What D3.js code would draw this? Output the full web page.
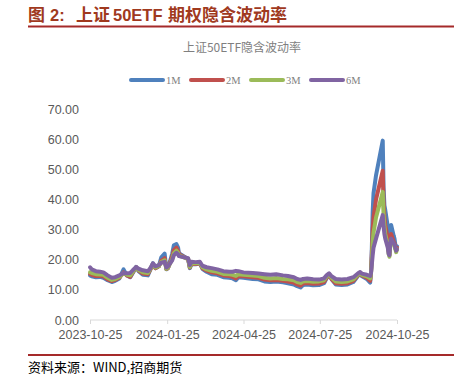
<!DOCTYPE html>
<html lang="zh">
<head>
<meta charset="UTF-8">
<title>上证50ETF期权隐含波动率</title>
<script src="https://d3js.org/d3.v7.min.js"></script>
<style>
  body { margin: 0; background: #fff; }
  svg text { font-family: "Liberation Sans", Arial, sans-serif; }
  .cjk { font-family: "Noto Sans CJK SC", sans-serif; }
</style>
</head>
<body>
<svg width="464" height="387"></svg>
<script>
// data
const dates = [
  "2023-10-25","2023-10-27","2023-11-01","2023-11-06","2023-11-10","2023-11-15","2023-11-20","2023-11-24",
  "2023-11-29","2023-12-04","2023-12-08","2023-12-12","2023-12-15","2023-12-19","2023-12-22","2023-12-27",
  "2024-01-02","2024-01-05","2024-01-08","2024-01-11","2024-01-15","2024-01-18","2024-01-22","2024-01-24",
  "2024-01-26","2024-01-31","2024-02-02","2024-02-05","2024-02-07","2024-02-08","2024-02-19","2024-02-21",
  "2024-02-23","2024-02-28","2024-03-04","2024-03-07","2024-03-12","2024-03-18","2024-03-25","2024-04-01",
  "2024-04-08","2024-04-12","2024-04-16","2024-04-19","2024-04-25","2024-05-06","2024-05-13","2024-05-20",
  "2024-05-27","2024-06-03","2024-06-11","2024-06-17","2024-06-24","2024-06-28","2024-07-02","2024-07-05",
  "2024-07-10","2024-07-17","2024-07-24","2024-07-30","2024-08-02","2024-08-05","2024-08-08","2024-08-13",
  "2024-08-20","2024-08-27","2024-09-03","2024-09-09","2024-09-11","2024-09-13","2024-09-19","2024-09-23",
  "2024-09-24","2024-09-25","2024-09-26","2024-09-27","2024-09-30","2024-10-08","2024-10-09","2024-10-10",
  "2024-10-11","2024-10-14","2024-10-15","2024-10-16","2024-10-17","2024-10-18","2024-10-21","2024-10-22",
  "2024-10-23","2024-10-24","2024-10-25"
];

const iv1M = [
  14.8,14.5,14.2,14.3,14.0,13.2,12.6,13.0,
  13.8,16.8,14.8,14.2,15.6,17.6,16.2,15.0,
  14.8,16.8,18.8,17.2,17.8,20.8,22.0,16.8,
  17.2,22.0,24.8,25.2,24.0,22.2,20.2,17.2,
  18.6,18.5,18.8,17.0,16.0,15.2,15.0,14.2,
  14.0,13.8,13.2,14.2,14.0,13.6,13.5,12.8,
  12.6,12.8,12.5,12.2,11.8,11.2,10.8,11.6,
  11.8,11.5,11.6,12.2,13.8,15.0,13.5,11.8,
  11.6,11.8,12.6,14.8,15.6,14.6,13.6,12.4,
  15.5,24.0,36.0,42.0,48.0,59.5,44.0,38.0,
  36.5,31.0,26.0,23.0,29.0,31.5,28.0,27.0,
  25.0,23.5,24.5
];

const iv2M = [
  15.3,15.0,14.6,14.6,14.5,13.5,12.9,13.3,
  14.0,15.8,14.8,14.3,15.8,17.5,16.4,15.4,
  15.2,16.8,18.5,17.2,17.8,19.6,20.5,16.9,
  17.2,21.0,23.2,24.0,23.0,21.8,20.2,17.4,
  18.7,18.6,18.8,17.2,16.4,15.8,15.5,14.8,
  14.6,14.3,13.8,14.6,14.5,14.2,14.0,13.4,
  13.2,13.3,13.0,12.8,12.4,11.8,11.4,12.1,
  12.3,12.0,12.1,12.6,14.0,15.0,13.6,12.2,
  12.0,12.2,13.0,15.0,15.6,14.8,14.0,13.0,
  15.5,22.0,30.0,34.0,40.0,49.5,39.0,34.0,
  31.5,27.0,23.0,21.5,26.5,28.5,26.0,25.5,
  24.0,23.0,24.0
];

const iv3M = [
  15.8,15.6,15.2,15.1,15.0,14.0,13.3,13.6,
  14.3,15.5,15.0,14.8,16.0,17.4,16.6,15.8,
  15.6,17.0,18.5,17.4,17.9,19.2,19.8,17.0,
  17.4,20.2,22.2,23.0,22.3,21.4,20.3,17.6,
  18.9,18.8,19.0,17.5,16.8,16.3,16.0,15.3,
  15.2,15.0,14.6,15.2,15.0,14.8,14.6,14.0,
  13.8,13.9,13.6,13.5,13.2,12.6,12.3,12.8,
  12.9,12.7,12.8,13.2,14.4,15.2,14.0,12.8,
  12.6,12.8,13.5,15.2,15.7,15.0,14.5,13.8,
  15.5,20.0,26.0,29.0,34.0,42.5,35.0,31.0,
  28.5,25.0,22.0,21.0,25.0,26.5,25.0,24.5,
  23.5,22.5,23.5
];

const iv6M = [
  17.5,16.8,16.2,16.0,15.8,14.8,14.0,14.2,
  14.8,15.6,15.5,15.6,16.5,17.6,17.0,16.5,
  16.2,17.2,18.8,17.8,18.2,19.0,19.3,17.4,
  17.8,19.8,21.5,22.3,21.8,21.2,20.5,18.2,
  19.3,19.2,19.3,18.0,17.5,17.2,16.8,16.2,
  16.0,16.0,16.3,16.2,15.8,15.6,15.4,15.2,
  15.0,15.2,14.8,14.6,14.2,13.6,13.3,13.6,
  13.8,13.5,13.4,13.8,14.8,15.5,14.5,13.6,
  13.4,13.6,14.2,15.6,15.9,15.4,15.0,14.6,
  15.5,18.5,21.5,24.0,27.0,34.8,31.0,28.5,
  27.0,24.0,22.0,21.5,25.5,27.0,25.5,25.0,
  24.0,23.0,23.5
];

const seriesNames = ["1M", "2M", "3M", "6M"];
const seriesColors = ["#4F81BD", "#C0504D", "#9BBB59", "#8064A2"];
const yTicks = [0, 10, 20, 30, 40, 50, 60, 70];
const xTickLabels = ["2023-10-25", "2024-01-25", "2024-04-25", "2024-07-25", "2024-10-25"];

const parse = d3.timeParse("%Y-%m-%d");
const allSeries = [iv1M, iv2M, iv3M, iv6M];

const svg = d3.select("svg");

// header, pieces placed like the original
const titleParts = [
  { t: "图", x: 28, cjk: true },
  { t: "2:", x: 50, cjk: false },
  { t: "上证", x: 76, cjk: true },
  { t: "50ETF", x: 113, cjk: false },
  { t: "期权隐含波动率", x: 168, cjk: true }
];
const title = svg.append("text")
    .attr("y", 21)
    .attr("fill", "#A0391E")
    .style("font-weight", "bold");
title.selectAll("tspan")
    .data(titleParts)
    .enter().append("tspan")
    .attr("x", d => d.x)
    .style("font-family", d => d.cjk ? "'Noto Sans CJK SC', sans-serif" : "'Liberation Sans', Arial, sans-serif")
    .style("font-size", d => d.cjk ? "17px" : "16.5px")
    .text(d => d.t);
svg.append("line")
    .attr("x1", 28).attr("x2", 454).attr("y1", 26.5).attr("y2", 26.5)
    .attr("stroke", "#A52A2A").attr("stroke-width", 2);

// chart title
svg.append("text")
    .attr("class", "cjk")
    .attr("x", 242).attr("y", 52)
    .attr("text-anchor", "middle")
    .attr("fill", "#7f7f7f")
    .style("font-size", "12px")
    .text("上证50ETF隐含波动率");

// scales
const x = d3.scaleTime()
    .domain([parse("2023-10-25"), parse("2024-10-25")])
    .range([90, 397]);
const y = d3.scaleLinear().domain([0, 70]).range([320, 109]);

// y axis labels
svg.append("g")
    .selectAll("text")
    .data(yTicks)
    .enter().append("text")
    .attr("x", 79)
    .attr("y", d => y(d) + 4.5)
    .attr("text-anchor", "end")
    .attr("fill", "#595959")
    .style("font-size", "12.5px")
    .text(d => d.toFixed(2));

// x axis
const xAxis = d3.axisBottom(x)
    .tickValues(xTickLabels.map(parse))
    .tickSize(4)
    .tickFormat(d3.timeFormat("%Y-%m-%d"));
const gx = svg.append("g")
    .attr("transform", "translate(0,320)")
    .call(xAxis);
gx.select(".domain").attr("stroke", "#d9d9d9").attr("d", "M90,0H397");
gx.selectAll(".tick line").attr("stroke", "#d9d9d9");
gx.selectAll(".tick text")
    .attr("fill", "#595959")
    .attr("dy", "0.95em")
    .style("font-size", "12.5px")
    .style("font-family", "'Liberation Sans', Arial, sans-serif");

// lines
const line = d3.line()
    .x((d, i) => x(parse(dates[i])))
    .y(d => y(d));

svg.append("g")
    .selectAll("path")
    .data(allSeries)
    .enter().append("path")
    .attr("d", line)
    .attr("fill", "none")
    .attr("stroke", (d, i) => seriesColors[i])
    .attr("stroke-width", 4)
    .attr("stroke-linejoin", "round")
    .attr("stroke-linecap", "round");

// legend
const legend = svg.append("g")
    .selectAll("g")
    .data(seriesNames)
    .enter().append("g")
    .attr("transform", (d, i) => `translate(${131 + i * 60},80)`);
legend.append("line")
    .attr("x1", 0).attr("x2", 32)
    .attr("stroke", (d, i) => seriesColors[i])
    .attr("stroke-width", 4)
    .attr("stroke-linecap", "round");
legend.append("text")
    .attr("x", 35).attr("y", 4)
    .attr("fill", "#7f7f7f")
    .style("font-size", "10.5px")
    .style("font-family", "'Liberation Serif', serif")
    .text(d => d);

// footer
svg.append("line")
    .attr("x1", 28).attr("x2", 454).attr("y1", 355).attr("y2", 355)
    .attr("stroke", "#A52A2A").attr("stroke-width", 2);
svg.append("text")
    .attr("class", "cjk")
    .attr("x", 28).attr("y", 372)
    .attr("fill", "#000")
    .style("font-size", "13px")
    .text("资料来源：WIND,招商期货");
</script>
</body>
</html>
